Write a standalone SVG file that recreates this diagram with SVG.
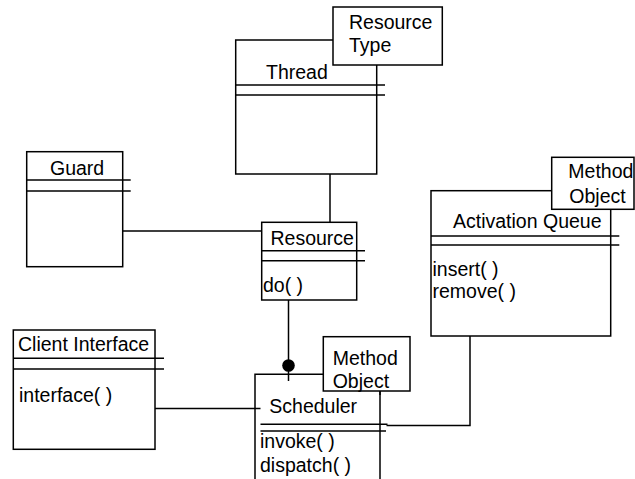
<svg xmlns="http://www.w3.org/2000/svg" width="635" height="479" viewBox="0 0 635 479">
  <style>
    .box { fill: #fff; stroke: #000; stroke-width: 1.5; }
    .ln { fill: none; stroke: #000; stroke-width: 1.5; }
    text { font-family: "Liberation Sans", Arial, sans-serif; font-size: 19.5px; fill: #000; }
  </style>
  <rect width="635" height="479" fill="#fff"/>

  <!-- connectors -->
  <g id="connectors">
    <line class="ln" x1="330" y1="174" x2="330" y2="226"/>
    <polyline class="ln" points="123,231 267,231 267,236"/>
    <line class="ln" x1="288.5" y1="300" x2="288.5" y2="381"/>
    <circle cx="288.5" cy="365.5" r="6.3" fill="#000"/>
    <line class="ln" x1="155" y1="408.5" x2="260.5" y2="408.5"/>
    <polyline class="ln" points="470,336 470,425.5 386.5,425.5"/>
  </g>

  <!-- Thread -->
  <g id="thread">
    <rect class="box" x="235.7" y="40" width="141" height="134"/>
    <line class="ln" x1="235.7" y1="85" x2="385" y2="85"/>
    <line class="ln" x1="235.7" y1="95" x2="385" y2="95"/>
    <text x="266" y="79">Thread</text>
  </g>
  <g id="resource-type">
    <rect class="box" x="333" y="7" width="109.3" height="58"/>
    <text x="349" y="29">Resource</text>
    <text x="349" y="52">Type</text>
  </g>

  <!-- Guard -->
  <g id="guard">
    <rect class="box" x="26.7" y="151.7" width="96" height="115"/>
    <line class="ln" x1="26.7" y1="180" x2="130.7" y2="180"/>
    <line class="ln" x1="26.7" y1="191" x2="130.7" y2="191"/>
    <text x="50" y="175">Guard</text>
  </g>

  <!-- Resource -->
  <g id="resource">
    <rect class="box" x="261.7" y="222.3" width="95" height="77.7"/>
    <line class="ln" x1="261.7" y1="250.7" x2="365" y2="250.7"/>
    <line class="ln" x1="261.7" y1="260.7" x2="365" y2="260.7"/>
    <text x="270.5" y="245">Resource</text>
    <text x="263" y="291.5">do( )</text>
  </g>

  <!-- Activation Queue -->
  <g id="activation-queue">
    <rect class="box" x="431" y="190.7" width="179.7" height="145.3"/>
    <line class="ln" x1="431" y1="236" x2="619.3" y2="236"/>
    <line class="ln" x1="431" y1="245" x2="619.3" y2="245"/>
    <text x="453" y="228.3">Activation Queue</text>
    <text x="432.5" y="276">insert( )</text>
    <text x="432.5" y="298">remove( )</text>
  </g>
  <g id="aq-method-object">
    <rect class="box" x="551.7" y="157.3" width="82.3" height="52"/>
    <text x="568.3" y="178.3">Method</text>
    <text x="569.3" y="203">Object</text>
  </g>

  <!-- Client Interface -->
  <g id="client-interface">
    <rect class="box" x="13.3" y="330" width="141.7" height="119.3"/>
    <line class="ln" x1="13.3" y1="358.3" x2="164" y2="358.3"/>
    <line class="ln" x1="13.3" y1="369" x2="164" y2="369"/>
    <text x="18" y="351">Client Interface</text>
    <text x="19" y="401.7">interface( )</text>
  </g>

  <!-- Scheduler -->
  <g id="scheduler">
    <polyline class="ln" points="255,482 255,374.3 323.3,374.3"/>
    <line class="ln" x1="380" y1="391" x2="380" y2="482"/>
    <line class="ln" x1="260.5" y1="424.3" x2="387.5" y2="424.3"/>
    <line class="ln" x1="260.5" y1="431" x2="386" y2="431"/>
    <text x="269.3" y="413">Scheduler</text>
    <text x="260" y="448">invoke( )</text>
    <text x="260" y="471.5">dispatch( )</text>
  </g>
  <g id="scheduler-method-object">
    <rect class="box" x="323.3" y="336.7" width="86.7" height="54.3"/>
    <line class="ln" x1="380" y1="391" x2="380" y2="395"/>
    <text x="332.7" y="365">Method</text>
    <text x="332.7" y="388">Object</text>
  </g>
</svg>
